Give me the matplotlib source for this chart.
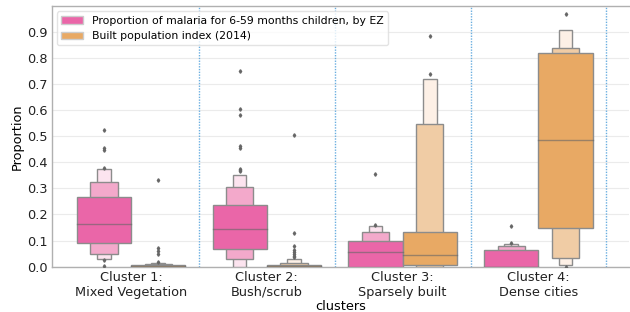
import matplotlib.pyplot as plt
from matplotlib.patches import Patch

clusters = ['Cluster 1:\nMixed Vegetation', 'Cluster 2:\nBush/scrub',
            'Cluster 3:\nSparsely built', 'Cluster 4:\nDense cities']
series = ['Proportion of malaria for 6-59 months children, by EZ',
          'Built population index (2014)']

# letter-value boxes per cluster, (low, high), innermost first
malaria_levels = [
    [(0.090, 0.266), (0.049, 0.323), (0.030, 0.374)],
    [(0.068, 0.237), (0.028, 0.307), (0.000, 0.351)],
    [(0.000, 0.100), (0.000, 0.132), (0.000, 0.155)],
    [(0.000, 0.064), (0.000, 0.081), (0.000, 0.087)],
]
malaria_median = [0.163, 0.144, 0.058, 0.0]
malaria_outliers = [
    [0.522, 0.455, 0.445, 0.378, 0.026, 0.003],
    [0.749, 0.602, 0.580, 0.461, 0.455, 0.374, 0.369, 0.365],
    [0.356, 0.161],
    [0.156, 0.092],
]

built_levels = [
    [(0.000, 0.005), (0.000, 0.012), (0.000, 0.014)],
    [(0.000, 0.006), (0.000, 0.013), (0.000, 0.028)],
    [(0.0065, 0.132), (0.000, 0.545), (0.000, 0.720)],
    [(0.147, 0.817), (0.035, 0.837), (0.005, 0.906)],
]
built_median = [0.002, 0.003, 0.045, 0.485]
built_outliers = [
    [0.333, 0.071, 0.060, 0.048, 0.019],
    [0.506, 0.128, 0.081, 0.064, 0.057, 0.050, 0.043, 0.036],
    [0.883, 0.736],
    [0.967, 0.0],
]

pink = ['#ea66a8', '#f3a9cb', '#fce4ef']
orange = ['#e8a964', '#f0cca5', '#fdf0e6']
edge = '#8c8c8c'

fig = plt.figure(figsize=(6.3, 3.12), dpi=100)
ax = fig.add_axes([0.082, 0.145, 0.917, 0.836])

box_w = 0.4
scales = [1.0, 0.5, 0.25]

def draw(levels, medians, outliers, colors, offset):
    for i in range(len(clusters)):
        x = i + offset
        for k in range(len(levels[i]) - 1, -1, -1):
            lo, hi = levels[i][k]
            ax.bar(x, hi - lo, bottom=lo, width=box_w * scales[k],
                   color=colors[k], edgecolor=edge, linewidth=1, zorder=3)
        ax.plot([x - box_w / 2, x + box_w / 2], [medians[i], medians[i]],
                color='#666666', alpha=0.6, lw=1, zorder=4)
        ax.plot([x] * len(outliers[i]), outliers[i], 'd', color='#666666',
                ms=1.8, zorder=4)

draw(malaria_levels, malaria_median, malaria_outliers, pink, -0.2)
draw(built_levels, built_median, built_outliers, orange, 0.2)

for i in range(len(clusters)):
    ax.axvline(i + 0.5, color='#6aaee0', ls=(0, (1, 1)), lw=1, zorder=2)

ax.set_xlim(-0.585, 3.67)
ax.set_ylim(0, 0.998)
ax.set_xticks(range(len(clusters)))
ax.set_xticklabels(clusters, fontsize=9.3)
ax.set_yticks([i / 10 for i in range(10)])
ax.set_yticklabels(['%.1f' % (i / 10) for i in range(10)], fontsize=9.3)
ax.tick_params(length=0, pad=3, colors='#222222')
ax.yaxis.grid(True, color='#ebebeb', lw=0.8, zorder=0)
ax.set_axisbelow(True)
for s in ax.spines.values():
    s.set_color('#b0b0b0')
    s.set_linewidth(1)
ax.spines['right'].set_visible(False)

ax.set_xlabel('clusters', fontsize=9.3, labelpad=1)
ax.set_ylabel('Proportion', fontsize=9.3, labelpad=2)

handles = [Patch(facecolor=pink[0], edgecolor='#cccccc'),
           Patch(facecolor=orange[0], edgecolor='#cccccc')]
ax.legend(handles, series, loc='upper left', fontsize=7.8,
          framealpha=0.8, edgecolor='#dddddd', borderpad=0.4,
          handlelength=2.0, handletextpad=0.8)

fig.savefig('out.png', dpi=100)
